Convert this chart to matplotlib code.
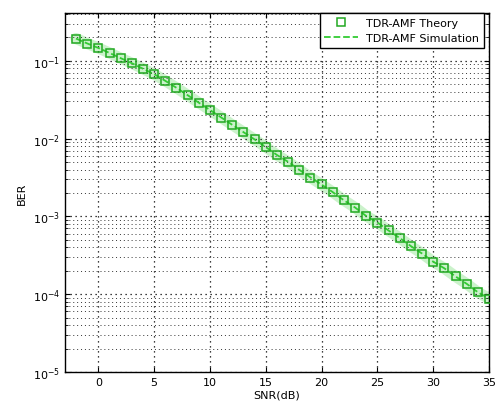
import matplotlib
matplotlib.use('Agg')
from matplotlib import pyplot as plt
from matplotlib.ticker import LogLocator, NullFormatter

# SNR points (dB) and BER
snr_db = list(range(-2, 36))
ber_theory = [0.191, 0.166, 0.145, 0.126, 0.107, 0.0933, 0.0794, 0.0676, 0.0550, 0.0447,
              0.0363, 0.0288, 0.0234, 0.0186, 0.0151, 0.0120, 0.00977, 0.00776, 0.00617,
              0.00501, 0.00398, 0.00316, 0.00257, 0.00204, 0.00162, 0.00129, 0.00102,
              8.32e-4, 6.61e-4, 5.25e-4, 4.17e-4, 3.31e-4, 2.63e-4, 2.14e-4, 1.70e-4,
              1.35e-4, 1.07e-4, 8.7e-5]
ber_sim = [0.193, 0.167, 0.146, 0.126, 0.108, 0.0930, 0.0790, 0.0672, 0.0552, 0.0449,
           0.0361, 0.0289, 0.0233, 0.0187, 0.0150, 0.0121, 0.00975, 0.00778, 0.00615,
           0.00503, 0.00397, 0.00317, 0.00256, 0.00205, 0.00161, 0.00130, 0.00101,
           8.35e-4, 6.58e-4, 5.27e-4, 4.15e-4, 3.33e-4, 2.62e-4, 2.15e-4, 1.69e-4,
           1.36e-4, 1.06e-4, 8.8e-5]
xticks = [0, 5, 10, 15, 20, 25, 30, 35]

fig = plt.figure(figsize=(4.99, 4.14), dpi=100)
ax = fig.add_axes([0.130, 0.099, 0.850, 0.867])

# soft glow under the curves, like the blurred original
ax.semilogy(snr_db, ber_sim, color='#7fe07f', lw=8, alpha=0.4, solid_capstyle='round', zorder=1)
ax.semilogy(snr_db, ber_theory, 's', color='#22a822', mfc='none', ms=5.5, mew=1.1,
            label='TDR-AMF Theory', zorder=3)
ax.semilogy(snr_db, ber_sim, '--', color='#33cc33', lw=1.3, label='TDR-AMF Simulation', zorder=2)

ax.set_xlim(-3, 35)
ax.set_ylim(1e-5, 0.41)
ax.set_xticks(xticks)
ax.yaxis.set_major_locator(LogLocator(base=10, numticks=10))
ax.yaxis.set_minor_locator(LogLocator(base=10, subs=range(2, 10), numticks=20))
ax.yaxis.set_minor_formatter(NullFormatter())

ax.grid(True, which='major', axis='both', color='black', linestyle=(0, (1, 3)), linewidth=0.9)
ax.grid(True, which='minor', axis='y', color='#333333', linestyle=(0, (1, 3)), linewidth=0.7)
ax.tick_params(direction='in', which='both', labelsize=8, top=True, right=True)

for s in ax.spines.values():
    s.set_linewidth(1.0)

ax.set_xlabel('SNR(dB)', fontsize=8, labelpad=2)
ax.set_ylabel('BER', fontsize=8, labelpad=4)

leg = ax.legend(loc='upper right', bbox_to_anchor=(0.988, 1.0), borderaxespad=0,
                fontsize=8, fancybox=False, framealpha=1, edgecolor='black',
                handlelength=3)
leg.get_frame().set_linewidth(1.0)

fig.savefig('out.png', dpi=100)
